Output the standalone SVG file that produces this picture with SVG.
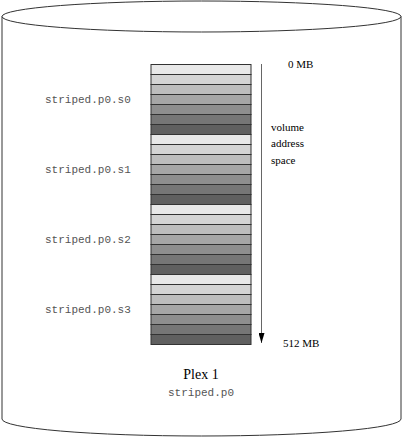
<svg xmlns="http://www.w3.org/2000/svg" width="403" height="438" viewBox="0 0 403 438">
<style>
.cyl{fill:none;stroke:#333;stroke-width:1}
.row{stroke:#333;stroke-width:1}
.c0{fill:#e8e8e8}.c1{fill:#d4d4d4}.c2{fill:#bdbdbd}.c3{fill:#a6a6a6}.c4{fill:#8e8e8e}.c5{fill:#767676}.c6{fill:#606060}
.mono{font-family:"Liberation Mono",monospace;font-size:11px;fill:#555}
.serif{font-family:"Liberation Serif",serif;font-size:11px;fill:#000}
</style>
<defs>
<marker id="ah" markerWidth="10" markerHeight="6" refX="10" refY="3" orient="auto" markerUnits="userSpaceOnUse" viewBox="0 0 10 6">
<path d="M0,0 L10,3 L0,6 Z" fill="#000"/>
</marker>
<g id="sub">
<rect class="row c0" x="151" y="0" width="100" height="10"/>
<rect class="row c1" x="151" y="10" width="100" height="10"/>
<rect class="row c2" x="151" y="20" width="100" height="10"/>
<rect class="row c3" x="151" y="30" width="100" height="10"/>
<rect class="row c4" x="151" y="40" width="100" height="10"/>
<rect class="row c5" x="151" y="50" width="100" height="10"/>
<rect class="row c6" x="151" y="60" width="100" height="10"/>
</g>
</defs>
<g id="cylinder">
<ellipse class="cyl" cx="201.5" cy="16.5" rx="199.5" ry="15.5"/>
<path class="cyl" d="M2,16.5 V419 A199.5,17 0 0 0 401,419 V16.5"/>
</g>
<g id="s0"><use href="#sub" y="64.5"/><text class="mono" x="45" y="103">striped.p0.s0</text></g>
<g id="s1"><use href="#sub" y="134.5"/><text class="mono" x="45" y="173">striped.p0.s1</text></g>
<g id="s2"><use href="#sub" y="204.5"/><text class="mono" x="45" y="243">striped.p0.s2</text></g>
<g id="s3"><use href="#sub" y="274.5"/><text class="mono" x="45" y="313">striped.p0.s3</text></g>
<g id="connectors">
<line x1="261.5" y1="64" x2="261.5" y2="343" stroke="#666" stroke-width="1" marker-end="url(#ah)"/>
</g>
<g id="labels">
<text class="serif" x="288" y="68">0 MB</text>
<text class="serif" x="271" y="131">volume</text>
<text class="serif" x="271" y="147">address</text>
<text class="serif" x="271" y="164">space</text>
<text class="serif" x="283" y="347">512 MB</text>
<text x="201" y="379" text-anchor="middle" style="font-family:'Liberation Serif',serif;font-size:14px">Plex 1</text>
<text class="mono" x="201" y="396" text-anchor="middle">striped.p0</text>
</g>
</svg>
